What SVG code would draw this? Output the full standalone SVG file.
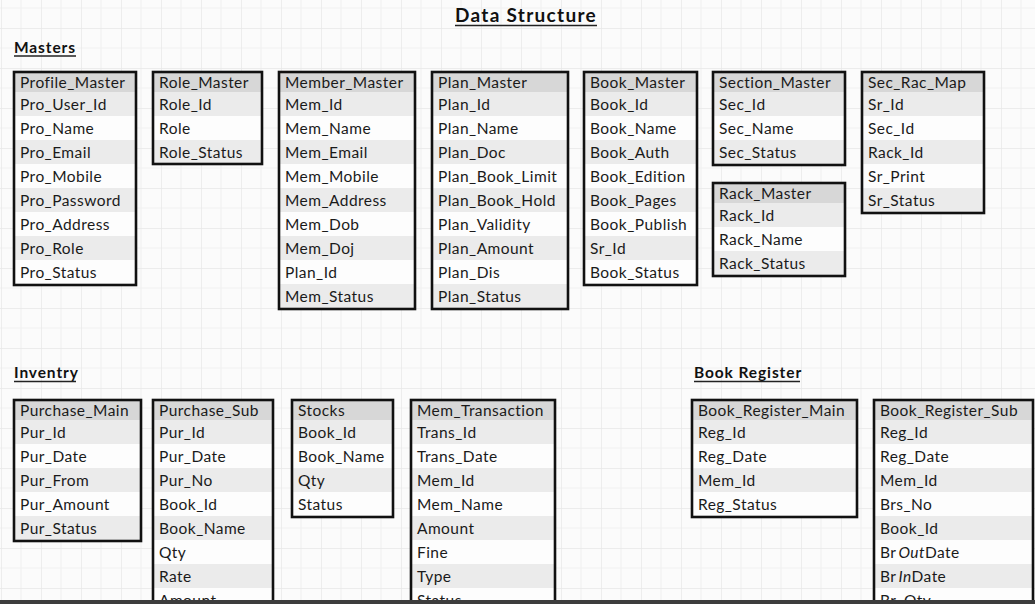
<svg xmlns="http://www.w3.org/2000/svg" width="1035" height="604" viewBox="0 0 1035 604">
<defs>
<pattern id="grid" x="1" y="28" width="40" height="40" patternUnits="userSpaceOnUse">
<rect width="40" height="40" fill="#fbfbfb"/>
<path d="M20 0V40M0 20H40" stroke="#f2f2f2" stroke-width="1.2" fill="none"/>
<path d="M0 0V40M0 0H40" stroke="#e8e8e8" stroke-width="1.4" fill="none"/>
</pattern>
<style>
text{font-family:"Lato","Open Sans","Liberation Sans",sans-serif;font-size:15.5px;letter-spacing:0.45px;fill:#1a1a1a}
.h{font-weight:bold;fill:#111;letter-spacing:0.9px}
.t{font-size:19px;letter-spacing:1.3px}
.ul{stroke:#222;stroke-width:1.6}
.hd{fill:#d7d7d7}
.g{fill:#ebebeb}
.w{fill:#fdfdfd}
.b{fill:none;stroke:#111;stroke-width:2.6}
</style>
</defs>
<rect width="1035" height="604" fill="url(#grid)"/>

<g id="headings">
<text class="h t" x="526" y="22" text-anchor="middle">Data Structure</text>
<line class="ul" x1="455" y1="25.5" x2="597" y2="25.5"/>
<text class="h" x="14" y="53">Masters</text>
<line class="ul" x1="14" y1="56" x2="76" y2="56"/>
<text class="h" x="14" y="378">Inventry</text>
<line class="ul" x1="14" y1="381.5" x2="76" y2="381.5"/>
<text class="h" x="694" y="378">Book Register</text>
<line class="ul" x1="694" y1="381.5" x2="800" y2="381.5"/>
</g>

<g id="profile_master">
<rect class="hd" x="14" y="72" width="122" height="20"/>
<rect class="g" x="14" y="92" width="122" height="24"/><rect class="w" x="14" y="116" width="122" height="24"/>
<rect class="g" x="14" y="140" width="122" height="24"/><rect class="w" x="14" y="164" width="122" height="24"/>
<rect class="g" x="14" y="188" width="122" height="24"/><rect class="w" x="14" y="212" width="122" height="24"/>
<rect class="g" x="14" y="236" width="122" height="24"/><rect class="w" x="14" y="260" width="122" height="24"/>
<text x="20" y="88">Profile_Master</text>
<text x="20" y="109.5">Pro_User_Id</text><text x="20" y="133.5">Pro_Name</text><text x="20" y="157.5">Pro_Email</text>
<text x="20" y="181.5">Pro_Mobile</text><text x="20" y="205.5">Pro_Password</text><text x="20" y="229.5">Pro_Address</text>
<text x="20" y="253.5">Pro_Role</text><text x="20" y="277.5">Pro_Status</text>
<rect class="b" x="14" y="72" width="122" height="213"/>
</g>

<g id="role_master">
<rect class="hd" x="153" y="72" width="109" height="20"/>
<rect class="g" x="153" y="92" width="109" height="24"/><rect class="w" x="153" y="116" width="109" height="24"/>
<rect class="g" x="153" y="140" width="109" height="24"/>
<text x="159" y="88">Role_Master</text>
<text x="159" y="109.5">Role_Id</text><text x="159" y="133.5">Role</text><text x="159" y="157.5">Role_Status</text>
<rect class="b" x="153" y="72" width="109" height="92"/>
</g>

<g id="member_master">
<rect class="hd" x="279" y="72" width="136" height="20"/>
<rect class="g" x="279" y="92" width="136" height="24"/><rect class="w" x="279" y="116" width="136" height="24"/>
<rect class="g" x="279" y="140" width="136" height="24"/><rect class="w" x="279" y="164" width="136" height="24"/>
<rect class="g" x="279" y="188" width="136" height="24"/><rect class="w" x="279" y="212" width="136" height="24"/>
<rect class="g" x="279" y="236" width="136" height="24"/><rect class="w" x="279" y="260" width="136" height="24"/>
<rect class="g" x="279" y="284" width="136" height="24"/>
<text x="285" y="88">Member_Master</text>
<text x="285" y="109.5">Mem_Id</text><text x="285" y="133.5">Mem_Name</text><text x="285" y="157.5">Mem_Email</text>
<text x="285" y="181.5">Mem_Mobile</text><text x="285" y="205.5">Mem_Address</text><text x="285" y="229.5">Mem_Dob</text>
<text x="285" y="253.5">Mem_Doj</text><text x="285" y="277.5">Plan_Id</text><text x="285" y="301.5">Mem_Status</text>
<rect class="b" x="279" y="72" width="136" height="237"/>
</g>

<g id="plan_master">
<rect class="hd" x="432" y="72" width="136" height="20"/>
<rect class="g" x="432" y="92" width="136" height="24"/><rect class="w" x="432" y="116" width="136" height="24"/>
<rect class="g" x="432" y="140" width="136" height="24"/><rect class="w" x="432" y="164" width="136" height="24"/>
<rect class="g" x="432" y="188" width="136" height="24"/><rect class="w" x="432" y="212" width="136" height="24"/>
<rect class="g" x="432" y="236" width="136" height="24"/><rect class="w" x="432" y="260" width="136" height="24"/>
<rect class="g" x="432" y="284" width="136" height="24"/>
<text x="438" y="88">Plan_Master</text>
<text x="438" y="109.5">Plan_Id</text><text x="438" y="133.5">Plan_Name</text><text x="438" y="157.5">Plan_Doc</text>
<text x="438" y="181.5">Plan_Book_Limit</text><text x="438" y="205.5">Plan_Book_Hold</text><text x="438" y="229.5">Plan_Validity</text>
<text x="438" y="253.5">Plan_Amount</text><text x="438" y="277.5">Plan_Dis</text><text x="438" y="301.5">Plan_Status</text>
<rect class="b" x="432" y="72" width="136" height="237"/>
</g>

<g id="book_master">
<rect class="hd" x="584" y="72" width="113" height="20"/>
<rect class="g" x="584" y="92" width="113" height="24"/><rect class="w" x="584" y="116" width="113" height="24"/>
<rect class="g" x="584" y="140" width="113" height="24"/><rect class="w" x="584" y="164" width="113" height="24"/>
<rect class="g" x="584" y="188" width="113" height="24"/><rect class="w" x="584" y="212" width="113" height="24"/>
<rect class="g" x="584" y="236" width="113" height="24"/><rect class="w" x="584" y="260" width="113" height="24"/>
<text x="590" y="88">Book_Master</text>
<text x="590" y="109.5">Book_Id</text><text x="590" y="133.5">Book_Name</text><text x="590" y="157.5">Book_Auth</text>
<text x="590" y="181.5">Book_Edition</text><text x="590" y="205.5">Book_Pages</text><text x="590" y="229.5">Book_Publish</text>
<text x="590" y="253.5">Sr_Id</text><text x="590" y="277.5">Book_Status</text>
<rect class="b" x="584" y="72" width="113" height="213"/>
</g>

<g id="section_master">
<rect class="hd" x="713" y="72" width="132" height="20"/>
<rect class="g" x="713" y="92" width="132" height="24"/><rect class="w" x="713" y="116" width="132" height="24"/>
<rect class="g" x="713" y="140" width="132" height="24"/>
<text x="719" y="88">Section_Master</text>
<text x="719" y="109.5">Sec_Id</text><text x="719" y="133.5">Sec_Name</text><text x="719" y="157.5">Sec_Status</text>
<rect class="b" x="713" y="72" width="132" height="93"/>
</g>

<g id="rack_master">
<rect class="hd" x="713" y="183" width="132" height="20"/>
<rect class="g" x="713" y="203" width="132" height="24"/><rect class="w" x="713" y="227" width="132" height="24"/>
<rect class="g" x="713" y="251" width="132" height="24"/>
<text x="719" y="199">Rack_Master</text>
<text x="719" y="220.5">Rack_Id</text><text x="719" y="244.5">Rack_Name</text><text x="719" y="268.5">Rack_Status</text>
<rect class="b" x="713" y="183" width="132" height="93"/>
</g>

<g id="sec_rac_map">
<rect class="hd" x="862" y="72" width="122" height="20"/>
<rect class="g" x="862" y="92" width="122" height="24"/><rect class="w" x="862" y="116" width="122" height="24"/>
<rect class="g" x="862" y="140" width="122" height="24"/><rect class="w" x="862" y="164" width="122" height="24"/>
<rect class="g" x="862" y="188" width="122" height="24"/>
<text x="868" y="88">Sec_Rac_Map</text>
<text x="868" y="109.5">Sr_Id</text><text x="868" y="133.5">Sec_Id</text><text x="868" y="157.5">Rack_Id</text>
<text x="868" y="181.5">Sr_Print</text><text x="868" y="205.5">Sr_Status</text>
<rect class="b" x="862" y="72" width="122" height="141"/>
</g>

<g id="purchase_main">
<rect class="hd" x="14" y="400" width="127" height="20"/>
<rect class="g" x="14" y="420" width="127" height="24"/><rect class="w" x="14" y="444" width="127" height="24"/>
<rect class="g" x="14" y="468" width="127" height="24"/><rect class="w" x="14" y="492" width="127" height="24"/>
<rect class="g" x="14" y="516" width="127" height="24"/>
<text x="20" y="416">Purchase_Main</text>
<text x="20" y="437.5">Pur_Id</text><text x="20" y="461.5">Pur_Date</text><text x="20" y="485.5">Pur_From</text>
<text x="20" y="509.5">Pur_Amount</text><text x="20" y="533.5">Pur_Status</text>
<rect class="b" x="14" y="400" width="127" height="141"/>
</g>

<g id="purchase_sub">
<rect class="hd" x="153" y="400" width="120" height="20"/>
<rect class="g" x="153" y="420" width="120" height="24"/><rect class="w" x="153" y="444" width="120" height="24"/>
<rect class="g" x="153" y="468" width="120" height="24"/><rect class="w" x="153" y="492" width="120" height="24"/>
<rect class="g" x="153" y="516" width="120" height="24"/><rect class="w" x="153" y="540" width="120" height="24"/>
<rect class="g" x="153" y="564" width="120" height="24"/><rect class="w" x="153" y="588" width="120" height="24"/>
<text x="159" y="416">Purchase_Sub</text>
<text x="159" y="437.5">Pur_Id</text><text x="159" y="461.5">Pur_Date</text><text x="159" y="485.5">Pur_No</text>
<text x="159" y="509.5">Book_Id</text><text x="159" y="533.5">Book_Name</text><text x="159" y="557.5">Qty</text>
<text x="159" y="581.5">Rate</text><text x="159" y="605.5">Amount</text>
<rect class="b" x="153" y="400" width="120" height="220"/>
</g>

<g id="stocks">
<rect class="hd" x="292" y="400" width="101" height="20"/>
<rect class="g" x="292" y="420" width="101" height="24"/><rect class="w" x="292" y="444" width="101" height="24"/>
<rect class="g" x="292" y="468" width="101" height="24"/><rect class="w" x="292" y="492" width="101" height="24"/>
<text x="298" y="416">Stocks</text>
<text x="298" y="437.5">Book_Id</text><text x="298" y="461.5">Book_Name</text><text x="298" y="485.5">Qty</text>
<text x="298" y="509.5">Status</text>
<rect class="b" x="292" y="400" width="101" height="117"/>
</g>

<g id="mem_transaction">
<rect class="hd" x="411" y="400" width="144" height="20"/>
<rect class="g" x="411" y="420" width="144" height="24"/><rect class="w" x="411" y="444" width="144" height="24"/>
<rect class="g" x="411" y="468" width="144" height="24"/><rect class="w" x="411" y="492" width="144" height="24"/>
<rect class="g" x="411" y="516" width="144" height="24"/><rect class="w" x="411" y="540" width="144" height="24"/>
<rect class="g" x="411" y="564" width="144" height="24"/><rect class="w" x="411" y="588" width="144" height="24"/>
<text x="417" y="416">Mem_Transaction</text>
<text x="417" y="437.5">Trans_Id</text><text x="417" y="461.5">Trans_Date</text><text x="417" y="485.5">Mem_Id</text>
<text x="417" y="509.5">Mem_Name</text><text x="417" y="533.5">Amount</text><text x="417" y="557.5">Fine</text>
<text x="417" y="581.5">Type</text><text x="417" y="605.5">Status</text>
<rect class="b" x="411" y="400" width="144" height="220"/>
</g>

<g id="book_register_main">
<rect class="hd" x="692" y="400" width="165" height="20"/>
<rect class="g" x="692" y="420" width="165" height="24"/><rect class="w" x="692" y="444" width="165" height="24"/>
<rect class="g" x="692" y="468" width="165" height="24"/><rect class="w" x="692" y="492" width="165" height="24"/>
<text x="698" y="416">Book_Register_Main</text>
<text x="698" y="437.5">Reg_Id</text><text x="698" y="461.5">Reg_Date</text><text x="698" y="485.5">Mem_Id</text>
<text x="698" y="509.5">Reg_Status</text>
<rect class="b" x="692" y="400" width="165" height="117"/>
</g>

<g id="book_register_sub">
<rect class="hd" x="874" y="400" width="159" height="20"/>
<rect class="g" x="874" y="420" width="159" height="24"/><rect class="w" x="874" y="444" width="159" height="24"/>
<rect class="g" x="874" y="468" width="159" height="24"/><rect class="w" x="874" y="492" width="159" height="24"/>
<rect class="g" x="874" y="516" width="159" height="24"/><rect class="w" x="874" y="540" width="159" height="24"/>
<rect class="g" x="874" y="564" width="159" height="24"/><rect class="w" x="874" y="588" width="159" height="24"/>
<text x="880" y="416">Book_Register_Sub</text>
<text x="880" y="437.5">Reg_Id</text><text x="880" y="461.5">Reg_Date</text><text x="880" y="485.5">Mem_Id</text>
<text x="880" y="509.5">Brs_No</text><text x="880" y="533.5">Book_Id</text>
<text x="880" y="557.5">Br<tspan dx="2" font-style="italic">Out</tspan>Date</text>
<text x="880" y="581.5">Br<tspan dx="2" font-style="italic">In</tspan>Date</text>
<text x="880" y="605.5">Br_Qty</text>
<rect class="b" x="874" y="400" width="159" height="220"/>
</g>

<g id="connectors"></g>

<rect x="0" y="600" width="1035" height="4" fill="#3d3d3d"/>
</svg>
